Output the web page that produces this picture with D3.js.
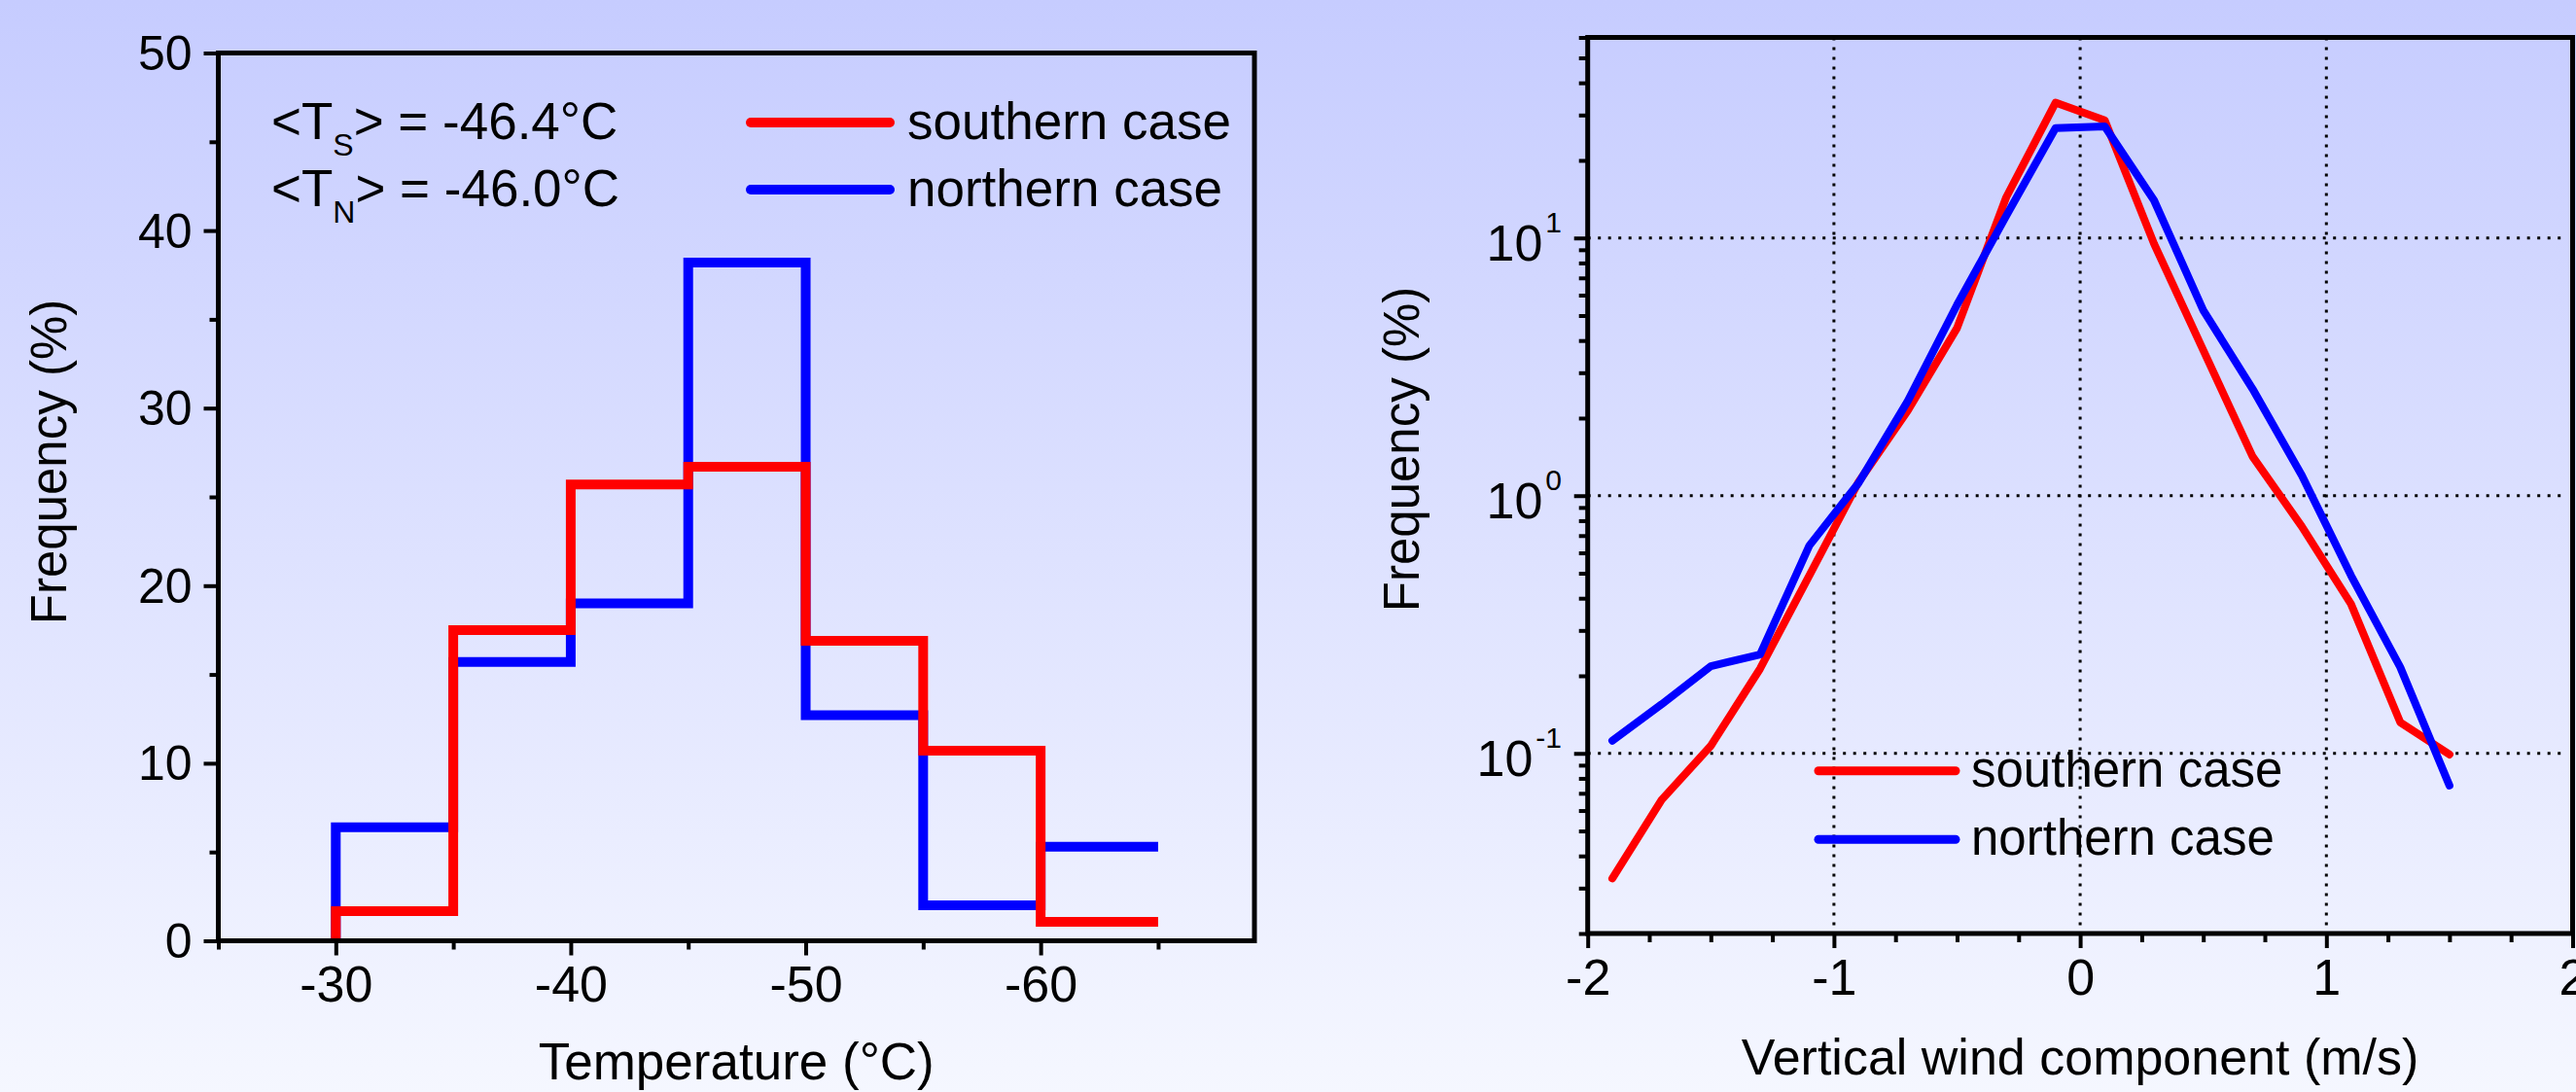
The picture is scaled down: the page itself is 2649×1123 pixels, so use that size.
<!DOCTYPE html>
<html>
<head>
<meta charset="utf-8">
<script src="https://cdn.jsdelivr.net/npm/d3@7"></script>
<style>
  html, body { margin: 0; padding: 0; overflow: hidden; }
  svg { display: block; font-family: 'Liberation Sans', Arial, sans-serif; }
</style>
</head>
<body>
<svg id="graf" width="2649" height="1123"></svg>
<script>
// ---- datos: histograma de temperatura ----
const tempBordes = [-30, -35, -40, -45, -50, -55, -60, -65]
const tempSur    = [1.67, 17.5, 25.7, 26.7, 16.9, 10.7, 1.07]
const tempNorte  = [6.4, 15.7, 19.0, 38.2, 12.7, 2.0, 5.3]
const tempTicks  = [-30, -40, -50, -60]
const tempMenor  = [-25, -35, -45, -55, -65]
const frecTicks  = [0, 10, 20, 30, 40, 50]
const frecMenor  = [5, 15, 25, 35, 45]

// ---- datos: viento vertical (escala log) ----
const vientoX     = [-1.9, -1.7, -1.5, -1.3, -1.1, -0.9, -0.7, -0.5, -0.3, -0.1, 0.1, 0.3, 0.5, 0.7, 0.9, 1.1, 1.3, 1.5]
const vientoSur   = [0.0327, 0.066, 0.107, 0.213, 0.49, 1.13, 2.14, 4.47, 14.4, 33.5, 28.6, 9.5, 3.67, 1.42, 0.76, 0.38, 0.132, 0.099]
const vientoNorte = [0.112, 0.155, 0.218, 0.242, 0.64, 1.12, 2.33, 5.5, 12.2, 26.7, 27.1, 14.0, 5.24, 2.6, 1.2, 0.49, 0.216, 0.075]
const vientoTicks = [-2, -1, 0, 1, 2]
const vientoMenor = [-1.75, -1.5, -1.25, -0.75, -0.5, -0.25, 0.25, 0.5, 0.75, 1.25, 1.5, 1.75]
const logTicks    = [0.1, 1, 10]
const logExpo     = ['-1', '0', '1']
const logMenor    = []
;[0.01, 0.1, 1, 10].forEach(d => { for (let k = 2; k <= 9; k++) { const v = +(d * k).toPrecision(2); if (v >= 0.02 && v <= 60) logMenor.push(v) } })

const leyenda = ['southern case', 'northern case']
const colores = ['#ff0000', '#0000ff']

// etiquetas con guion normal (no el signo menos de d3)
const fmt = d => String(d)

svg = d3.select('#graf')

// fondo degradado
grad = svg.append('defs').append('linearGradient')
  .attr('id', 'fondo').attr('x1', 0).attr('y1', 0).attr('x2', 0).attr('y2', 1)
grad.append('stop').attr('offset', '0%').attr('stop-color', '#c6ccff')
grad.append('stop').attr('offset', '100%').attr('stop-color', '#f5f7ff')
svg.append('rect').attr('width', 2649).attr('height', 1123).attr('fill', 'url(#fondo)')

function estiloEje(sel) {
  sel.select('.domain').remove()
  sel.selectAll('.tick line').attr('stroke', '#000').attr('stroke-width', 4)
  sel.selectAll('text').attr('fill', '#000').attr('font-family', null)
}

/***** Grafica izquierda: temperatura *****/
x1 = d3.scaleLinear().domain([-25, -69.1]).range([224.5, 1290])
y1 = d3.scaleLinear().domain([0, 50]).range([967.5, 54.5])

g1 = svg.append('g')

g1.append('g').attr('transform', `translate(0,${y1(0)})`)
  .call(d3.axisBottom(x1).tickValues(tempMenor).tickSize(9).tickFormat(''))
  .call(estiloEje)
g1.append('g').attr('transform', `translate(0,${y1(0)})`)
  .call(d3.axisBottom(x1).tickValues(tempTicks).tickSize(15).tickFormat(fmt))
  .call(estiloEje)
  .selectAll('text').attr('font-size', 52).attr('y', 62).attr('dy', null)

g1.append('g').attr('transform', `translate(${x1(-25)},0)`)
  .call(d3.axisLeft(y1).tickValues(frecMenor).tickSize(9).tickFormat(''))
  .call(estiloEje)
g1.append('g').attr('transform', `translate(${x1(-25)},0)`)
  .call(d3.axisLeft(y1).tickValues(frecTicks).tickSize(15).tickPadding(12).tickFormat(fmt))
  .call(estiloEje)
  .selectAll('text').attr('font-size', 50).attr('dy', '0.34em')

// lineas escalonadas
function pasos(valores) {
  pts = [[tempBordes[0], 0]]
  valores.forEach((v, i) => pts.push([tempBordes[i], v]))
  pts.push([tempBordes[tempBordes.length - 1], valores[valores.length - 1]])
  return pts
}
linea1 = d3.line().x(d => x1(d[0])).y(d => y1(d[1])).curve(d3.curveStepAfter)
;[tempNorte, tempSur].forEach((serie, i) => {
  g1.append('path').attr('d', linea1(pasos(serie)))
    .attr('fill', 'none').attr('stroke', colores[1 - i])
    .attr('stroke-width', 10).attr('stroke-linejoin', 'miter')
})

g1.append('rect')
  .attr('x', x1(-25)).attr('y', y1(50))
  .attr('width', x1(-69.1) - x1(-25)).attr('height', y1(0) - y1(50))
  .attr('fill', 'none').attr('stroke', '#000').attr('stroke-width', 5)

// textos de medias
medias = [['S', '-46.4°C', 143], ['N', '-46.0°C', 212]]
medias.forEach(m => {
  t = g1.append('text').attr('x', 279).attr('y', m[2]).attr('font-size', 53)
  t.append('tspan').text('<T')
  t.append('tspan').attr('font-size', 32).attr('dy', 17).text(m[0])
  t.append('tspan').attr('dy', -17).text('> = ' + m[1])
})

leyenda.forEach((nombre, i) => {
  yy = [126, 195][i]
  g1.append('line').attr('x1', 772).attr('x2', 915).attr('y1', yy).attr('y2', yy)
    .attr('stroke', colores[i]).attr('stroke-width', 10).attr('stroke-linecap', 'round')
  g1.append('text').attr('x', 933).attr('y', yy + 17).attr('font-size', 53).text(nombre)
})

g1.append('text').attr('x', (x1(-25) + x1(-69.1)) / 2).attr('y', 1110)
  .attr('text-anchor', 'middle').attr('font-size', 53).text('Temperature (°C)')
g1.append('text').attr('transform', 'translate(68,475) rotate(-90)')
  .attr('text-anchor', 'middle').attr('font-size', 51).text('Frequency (%)')

/***** Grafica derecha: viento vertical *****/
x2 = d3.scaleLinear().domain([-2, 2]).range([1632.7, 2645.5])
y2 = d3.scaleLog().domain([0.02, 60]).range([960, 38.5])

g2 = svg.append('g')

// rejilla punteada
g2.selectAll('.vgrid').data([-1, 0, 1]).enter().append('line')
  .attr('x1', d => x2(d)).attr('x2', d => x2(d)).attr('y1', y2(60)).attr('y2', y2(0.02))
  .attr('stroke', '#000').attr('stroke-width', 3).attr('stroke-dasharray', '3,7')
g2.selectAll('.hgrid').data(logTicks).enter().append('line')
  .attr('y1', d => y2(d)).attr('y2', d => y2(d)).attr('x1', x2(-2)).attr('x2', x2(2) - 6)
  .attr('stroke', '#000').attr('stroke-width', 3).attr('stroke-dasharray', '3,7.5')

g2.append('g').attr('transform', `translate(0,${y2(0.02)})`)
  .call(d3.axisBottom(x2).tickValues(vientoMenor).tickSize(9).tickFormat(''))
  .call(estiloEje)
g2.append('g').attr('transform', `translate(0,${y2(0.02)})`)
  .call(d3.axisBottom(x2).tickValues(vientoTicks).tickSize(15).tickFormat(fmt))
  .call(estiloEje)
  .selectAll('text').attr('font-size', 52).attr('y', 63).attr('dy', null)

g2.append('g').attr('transform', `translate(${x2(-2)},0)`)
  .call(d3.axisLeft(y2).tickValues(logMenor).tickSize(9).tickFormat(''))
  .call(estiloEje)
g2.append('g').attr('transform', `translate(${x2(-2)},0)`)
  .call(d3.axisLeft(y2).tickValues(logTicks).tickSize(14).tickFormat(''))
  .call(estiloEje)

logTicks.forEach((v, i) => {
  t = g2.append('text').attr('x', 1606).attr('y', y2(v) + 23)
    .attr('text-anchor', 'end').attr('font-size', 52)
  t.append('tspan').text('10')
  t.append('tspan').attr('font-size', 30).attr('dy', -29).attr('dx', 3).text(logExpo[i])
})

linea2 = d3.line().x((d, i) => x2(vientoX[i])).y(d => y2(d))
;[vientoSur, vientoNorte].forEach((serie, i) => {
  g2.append('path').attr('d', linea2(serie))
    .attr('fill', 'none').attr('stroke', colores[i])
    .attr('stroke-width', 8).attr('stroke-linejoin', 'round').attr('stroke-linecap', 'round')
})

leyenda.forEach((nombre, i) => {
  yy = [792.7, 863.3][i]
  g2.append('line').attr('x1', 1870).attr('x2', 2011).attr('y1', yy).attr('y2', yy)
    .attr('stroke', colores[i]).attr('stroke-width', 9).attr('stroke-linecap', 'round')
  g2.append('text').attr('x', 2027).attr('y', yy + 16).attr('font-size', 51).text(nombre)
})

g2.append('rect')
  .attr('x', x2(-2)).attr('y', y2(60))
  .attr('width', x2(2) - x2(-2)).attr('height', y2(0.02) - y2(60))
  .attr('fill', 'none').attr('stroke', '#000').attr('stroke-width', 5)

g2.append('text').attr('x', x2(0)).attr('y', 1105)
  .attr('text-anchor', 'middle').attr('font-size', 52).text('Vertical wind component (m/s)')
g2.append('text').attr('transform', 'translate(1459,462) rotate(-90)')
  .attr('text-anchor', 'middle').attr('font-size', 51).text('Frequency (%)')
</script>
</body>
</html>
